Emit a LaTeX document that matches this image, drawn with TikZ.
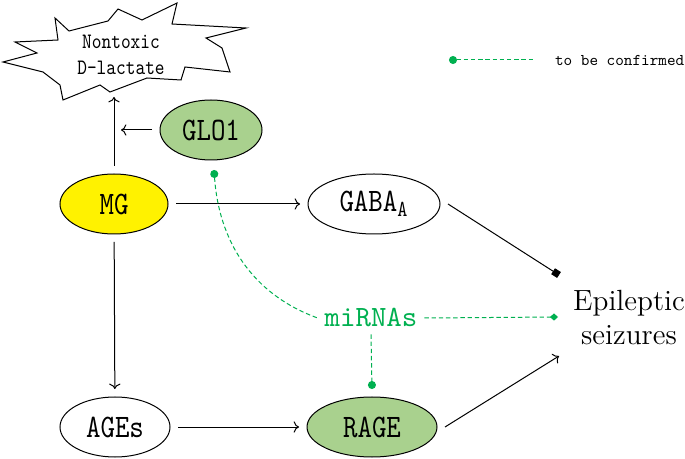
\documentclass[tikz,border=0pt]{standalone}
\usepackage{fontspec}
\usetikzlibrary{shapes.geometric,arrows.meta}
\newfontfamily\labelfont{lmmono10-regular.otf}[FakeStretch=0.84]
\newfontfamily\typefont{lmmono10-regular.otf}
\definecolor{leafgreen}{HTML}{A9D18E}
\definecolor{mirgreen}{HTML}{00B050}

\begin{document}
\begin{tikzpicture}[x=0.5pt,y=-0.5pt,
    agent/.style={ellipse,draw,line width=0.5pt,minimum width=#1,
        minimum height=30pt,inner sep=0pt,outer sep=4pt,
        font=\labelfont\fontsize{16.4}{19}\selectfont},
    agent/.default=54pt,
    link/.style={->,line width=0.5pt},
    confirm/.style={mirgreen,line width=0.5pt,dash pattern=on 2.2pt off 1.4pt}]
    \useasboundingbox (0,0) rectangle (685,459);
    \draw[line width=0.5pt] (55,18) -- (69,31) -- (108,21) -- (118,9) -- (142,20)
        -- (177,3) -- (172,24) -- (246,28) -- (206,38) -- (222,48) -- (230,72)
        -- (185,67) -- (181,80) -- (147,78) -- (110,92) -- (100,85) -- (63,100)
        -- (60,85) -- (43,72) -- (3,62) -- (37,53) -- (15,42) -- (58,40) -- cycle;
    \node[font=\labelfont\fontsize{11}{13}\selectfont,align=center] (dlac) at (121,55) {Nontoxic\\D-lactate};
    \coordinate (burstfoot) at (114,97);
    \node[agent=51pt,fill=leafgreen] (glo) at (211,130) {GLO1};
    \node[agent,fill=yellow] (mg) at (114,204) {MG};
    \node[agent=66pt] (gaba) at (374,204) {GABA\textsubscript{A}};
    \node[agent=55pt] (ages) at (115,427) {AGEs};
    \node[agent=65pt,fill=leafgreen] (rage) at (372,427) {RAGE};
    \node[text=mirgreen,font=\typefont\fontsize{14.7}{17}\selectfont] (mir) at (371,318) {miRNAs};
    \node[font=\fontsize{14.6}{17}\selectfont,align=center] (seizure) at (629,318) {Epileptic\\seizures};
    \coordinate (sz-gaba) at (559,275);
    \coordinate (sz-mir) at (558,317);
    \coordinate (sz-rage) at (559,356);
    \coordinate (glodot) at (214,170);
    \coordinate (keydot) at (449,60);
    \coordinate (keyend) at (535,60);
    \node[font=\typefont\fontsize{8.2}{10}\selectfont,anchor=west] (keytext) at (548,60) {to be confirmed};

    \draw[link] (mg) -- (burstfoot);
    \draw[link,shorten >=3.5pt] (glo) -- (glo -| mg);
    \draw[link] (mg) -- (gaba);
    \draw[link] (mg) -- (ages);
    \draw[link] (ages) -- (rage);
    \draw[line width=0.5pt,-{Square[length=3.5pt]}] (gaba.east) -- (sz-gaba);
    \draw[link] (rage.east) -- (sz-rage);
    \draw[confirm,{Circle[length=4pt]}-] (glodot) to[out=-86,in=160] (mir.west);
    \draw[confirm,-{Diamond[length=4pt,width=3.6pt]}] (mir.east) -- (sz-mir);
    \draw[confirm,-{Circle[length=4pt]}] (mir.south) -- (rage.north);
    \draw[confirm,{Circle[length=4pt]}-] (keydot) -- (keyend);
\end{tikzpicture}
\end{document}
